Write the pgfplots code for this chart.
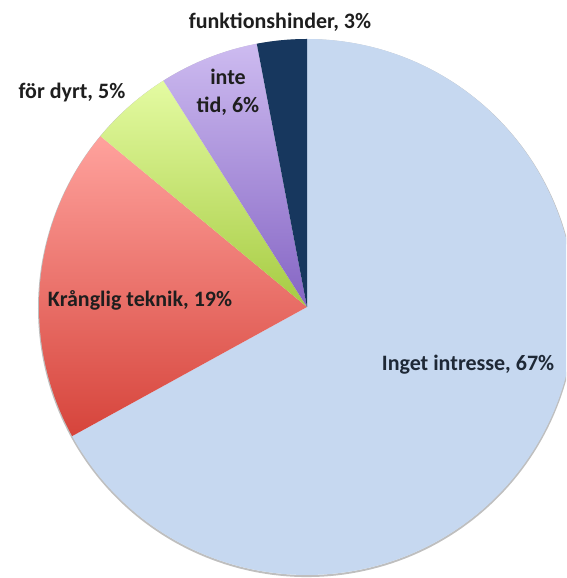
\documentclass[border=0pt]{standalone}
\usepackage{pgfplots}
\pgfplotsset{compat=1.18}
\usepackage{fontspec}
\setmainfont{Carlito}
\definecolor{cblue}{HTML}{C6D8F0}
\definecolor{credtop}{HTML}{FFA29D}
\definecolor{credbot}{HTML}{D6443B}
\definecolor{cgreentop}{HTML}{E4FBA2}
\definecolor{cgreenbot}{HTML}{A6CB42}
\definecolor{cpurptop}{HTML}{CDBBF0}
\definecolor{cpurpbot}{HTML}{8565C4}
\definecolor{cnavy}{HTML}{17375E}
\definecolor{ctext}{HTML}{1E1E1E}
\definecolor{ctextb}{HTML}{1E2836}
% shares in percent, clockwise from 12 o'clock
\def\pA{67}\def\pB{19}\def\pC{5}\def\pD{6}\def\pE{3}
\pgfmathsetmacro\aA{90}
\pgfmathsetmacro\aB{90-3.6*\pA}
\pgfmathsetmacro\aC{\aB-3.6*\pB}
\pgfmathsetmacro\aD{\aC-3.6*\pC}
\pgfmathsetmacro\aE{\aD-3.6*\pD}
\pgfmathsetmacro\aF{\aE-3.6*\pE}
\begin{document}
\begin{tikzpicture}
\begin{axis}[
  width=566pt, height=578pt, scale only axis,
  xmin=-1.1455, xmax=0.9664, ymin=-1.0112, ymax=1.1455,
  axis lines=none, clip=true,
  trig format plots=deg,
]
\path (rel axis cs:0,0) rectangle (rel axis cs:1,1);
% soft shadow edge
\addplot[draw=black!25, line width=2pt, domain=-180:180, samples=240] ({cos(x)},{sin(x)-0.004});
\addplot[fill=cblue, draw=none, domain=\aB:\aA, samples=200] ({cos(x)},{sin(x)}) -- (axis cs:0,0) -- cycle;
\addplot[top color=credtop, bottom color=credbot, draw=none, domain=\aC:\aB, samples=80] ({cos(x)},{sin(x)}) -- (axis cs:0,0) -- cycle;
\addplot[top color=cgreentop, bottom color=cgreenbot, draw=none, domain=\aD:\aC, samples=30] ({cos(x)},{sin(x)}) -- (axis cs:0,0) -- cycle;
\addplot[top color=cpurptop, bottom color=cpurpbot, draw=none, domain=\aE:\aD, samples=30] ({cos(x)},{sin(x)}) -- (axis cs:0,0) -- cycle;
\addplot[fill=cnavy, draw=none, domain=\aF:\aE, samples=20] ({cos(x)},{sin(x)}) -- (axis cs:0,0) -- cycle;
\begin{scope}[font=\fontsize{22}{28}\selectfont\bfseries, text=ctext]
\node at (axis cs:-0.1007,1.0634) {funktionshinder, 3\%};
\node[align=center] at (axis cs:-0.2948,0.8022) {inte\\tid, 6\%};
\node at (axis cs:-0.877,0.802) {för dyrt, 5\%};
\node at (axis cs:-0.623,0.026) {Krånglig teknik, 19\%};
\node[text=ctextb] at (axis cs:0.601,-0.216) {Inget intresse, 67\%};
\end{scope}
\end{axis}
\end{tikzpicture}
\end{document}
